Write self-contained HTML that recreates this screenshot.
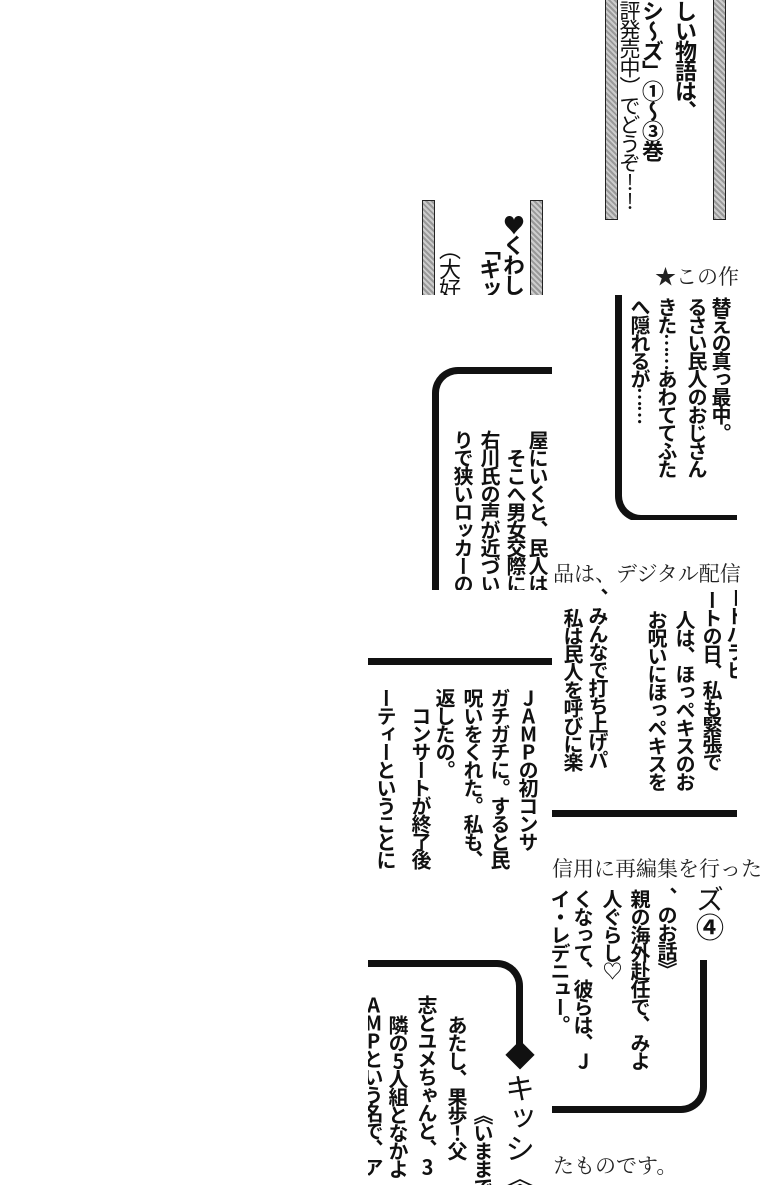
<!DOCTYPE html>
<html><head><meta charset="utf-8"><style>
html,body{margin:0;padding:0;background:#fff;}
body{width:760px;height:1200px;position:relative;overflow:hidden;font-family:"Liberation Sans","Noto Sans CJK JP",sans-serif;}
.t{position:absolute;overflow:hidden;background:#fff;}
.c{position:absolute;writing-mode:vertical-rl;font-family:"Noto Sans CJK JP",sans-serif;font-size:20px;line-height:24px;width:24px;font-weight:bold;color:#111;white-space:nowrap;letter-spacing:-2px;}
.u{text-orientation:upright;}
.l{font-weight:normal;}
.h{position:absolute;font-family:"Liberation Serif","Noto Serif CJK SC",serif;font-size:21px;color:#222;white-space:nowrap;}
.bar{position:absolute;width:11px;border:1.5px solid #222;background:repeating-linear-gradient(45deg,#999 0 2px,#ccc 2px 4px);}
.ln{position:absolute;background:#111;}
</style></head><body>

<div class="t" style="left:600px;top:0;width:140px;height:222px">
  <div class="bar" style="left:5px;top:-2px;height:220px"></div>
  <div class="bar" style="left:113px;top:-2px;height:220px"></div>
  <div class="c" style="left:74px;top:0;font-size:22px">しい物語は、</div>
  <div class="c" style="left:41px;top:0;font-size:22px">シ〜ズ」①〜③巻</div>
  <div class="c l" style="left:18px;top:0;font-size:21px">評発売中）でどうぞ<span class="u">!!</span></div>
</div>

<div class="t" style="left:420px;top:198px;width:130px;height:97px">
  <div class="bar" style="left:2px;top:2px;height:100px"></div>
  <div class="bar" style="left:110px;top:2px;height:100px"></div>
  <div class="c" style="left:82px;top:16px;font-size:22px">♥くわし</div>
  <div class="c" style="left:58px;top:40px;font-size:22px">「キッ</div>
  <div class="c l" style="left:18px;top:40px;font-size:22px">（大好</div>
</div>

<div class="h" style="left:655px;top:261px">★この作</div>

<div class="t" style="left:552px;top:295px;width:185px;height:225px">
  <div style="position:absolute;left:63px;top:-30px;width:160px;height:250px;border-left:7px solid #111;border-bottom:7px solid #111;border-bottom-left-radius:26px"></div>
  <div class="c" style="left:157px;top:2px">替えの真っ最中。</div>
  <div class="c" style="left:133px;top:2px">るさい民人のおじさん</div>
  <div class="c" style="left:103px;top:2px">きた……あわててふた</div>
  <div class="c" style="left:76px;top:2px">へ隠れるが……</div>
</div>

<div class="t" style="left:430px;top:365px;width:122px;height:225px">
  <div style="position:absolute;left:2px;top:2px;width:200px;height:300px;border-left:7px solid #111;border-top:7px solid #111;border-top-left-radius:26px"></div>
  <div class="c" style="left:96px;top:65px">屋にいくと、民人は着</div>
  <div class="c" style="left:74px;top:83px">そこへ男女交際にうる</div>
  <div class="c" style="left:48px;top:65px">右川氏の声が近づいて</div>
  <div class="c" style="left:21px;top:65px">りで狭いロッカーの中</div>
</div>

<div class="h" style="left:553px;top:558px">品は、デジタル配信</div>

<div class="t" style="left:552px;top:588px;width:185px;height:230px">
  <div class="c" style="left:172px;top:0">ートパラビ</div>
  <div class="c" style="left:148px;top:2px">ートの日、私も緊張で</div>
  <div class="c" style="left:121px;top:22px">人は、ほっペキスのお</div>
  <div class="c" style="left:93px;top:22px">お呪いにほっペキスを</div>
  <div class="c" style="left:34px;top:0">、みんなで打ち上げパ</div>
  <div class="c" style="left:9px;top:20px">私は民人を呼びに楽</div>
  <div class="ln" style="left:0;top:222px;width:185px;height:7px"></div>
</div>

<div class="t" style="left:368px;top:590px;width:184px;height:295px">
  <div class="ln" style="left:0;top:68px;width:184px;height:7px"></div>
  <div class="c" style="left:148px;top:98px"><span class="u">JAMP</span>の初コンサ</div>
  <div class="c" style="left:120px;top:98px">ガチガチに。すると民</div>
  <div class="c" style="left:93px;top:98px">呪いをくれた。私も、</div>
  <div class="c" style="left:65px;top:98px">返したの。</div>
  <div class="c" style="left:41px;top:116px">コンサートが終了後</div>
  <div class="c" style="left:6px;top:98px">ーティーということに</div>
</div>

<div class="h" style="left:552px;top:853px">信用に再編集を行った</div>

<div class="t" style="left:552px;top:885px;width:185px;height:228px">
  <div style="position:absolute;left:-100px;top:75px;width:248px;height:146px;border-right:7px solid #111;border-bottom:7px solid #111;border-bottom-right-radius:26px"></div>
  <div class="c l" style="left:140px;top:0;font-size:28px;width:30px;letter-spacing:0">ズ<span class="u" style="font-weight:bold">④</span></div>
  <div class="c" style="left:103px;top:2px">、のお話》</div>
  <div class="c" style="left:76px;top:4px">親の海外赴任で、みよ</div>
  <div class="c" style="left:48px;top:4px">人ぐらし♡</div>
  <div class="c" style="left:19px;top:4px">くなって、彼らは、<span class="u">J</span></div>
  <div class="c" style="left:-4px;top:4px">イ・レデニュー。</div>
</div>

<div class="t" style="left:368px;top:955px;width:184px;height:230px">
  <div style="position:absolute;left:-100px;top:5px;width:248px;height:200px;border-right:7px solid #111;border-top:7px solid #111;border-top-right-radius:26px"></div>
  <div style="position:absolute;left:141px;top:90px;width:204px;height:200px;background:#fff"></div>
  <div class="c" style="left:137px;top:85px;font-size:30px;width:30px;line-height:30px;letter-spacing:0">◆</div>
  <div class="c l" style="left:137px;top:118px;font-size:30px;width:30px;line-height:30px;letter-spacing:0">キッシ《</div>
  <div class="c" style="left:103px;top:150px">《いままで</div>
  <div class="c" style="left:77px;top:60px">あたし、果歩！父</div>
  <div class="c" style="left:47px;top:40px">志とユメちゃんと、<span class="u">3</span></div>
  <div class="c" style="left:18px;top:60px">隣の<span class="u">5</span>人組となかよ</div>
  <div class="c" style="left:-7px;top:40px"><span class="u">AMP</span>という名で、ア</div>
</div>

<div class="h" style="left:553px;top:1150px">たものです。</div>

</body></html>
